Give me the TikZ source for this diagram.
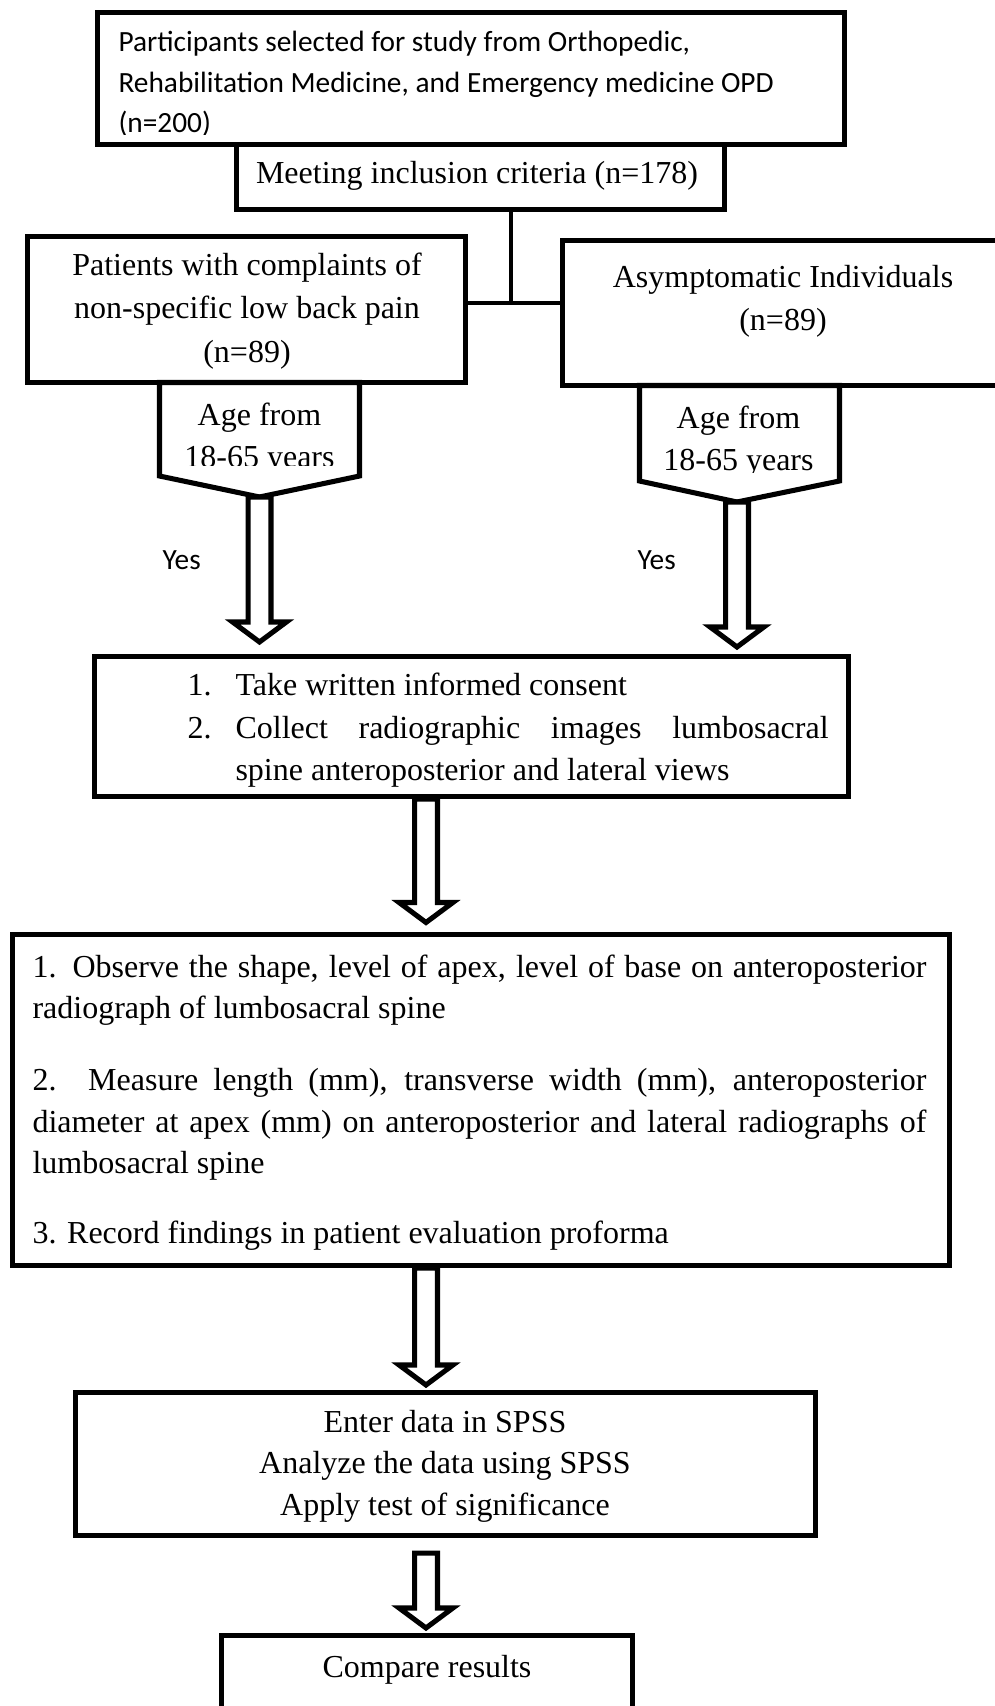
\documentclass[tikz,border=0pt]{standalone}
\usepackage{fontspec}
\setmainfont{Liberation Serif}
\newfontfamily\calib{Carlito}
\usetikzlibrary{calc}
\begin{document}
\begin{tikzpicture}[x=0.375pt,y=-0.375pt,
  box/.style={draw, line width=1.9pt, fill=white, inner sep=0pt, rectangle},
  tnr/.style={font=\fontsize{12}{14}\selectfont, inner sep=0pt},
  cal/.style={font=\calib\fontsize{11}{13}\selectfont, inner sep=0pt},
  conn/.style={line width=1.7pt},
  pent/.style={draw, line width=1.9pt, fill=white, line join=miter},
  blockarr/.style={draw, fill=white, line width=1.9pt, line join=miter,
    to path={let \p1=(\tikztostart), \p2=(\tikztotarget) in
      (\x2-4.3pt,\y1) -- (\x2-4.3pt,\y2+7.5pt) -- (\x2-10.1pt,\y2+7.5pt) -- (\x2,\y2)
      -- (\x2+10.1pt,\y2+7.5pt) -- (\x2+4.3pt,\y2+7.5pt) -- (\x2+4.3pt,\y1) -- cycle}}]
\clip (0,0) rectangle (995,1706);
\fill[white] (0,0) rectangle (995,1706);

% boxes
\node[box, minimum width=280.125pt, minimum height=49.5pt] (top) at (471,78.5) {};
\node[box, minimum width=183pt, minimum height=24.375pt] (meet) at (480.5,177) {};
\node[box, minimum width=164.25pt, minimum height=54.75pt] (left) at (246.5,309.5) {};
\node[box, minimum width=165.5625pt, minimum height=54.375pt] (right) at (783.25,313) {};
\node[box, minimum width=282.75pt, minimum height=52.5pt] (box3) at (471.5,726.5) {};
\node[box, minimum width=351.375pt, minimum height=124.125pt] (box4) at (481,1100) {};
\node[box, minimum width=277.5pt, minimum height=53.625pt] (box5) at (445.5,1464) {};
\node[box, minimum width=154.125pt, minimum height=56.25pt] (box6) at (427,1710.5) {};

% pentagons
\coordinate (pLtip) at (259.5,497);
\coordinate (pRtip) at (737,502);
\draw[pent] (159.5,382.5) -- (359.5,382.5) -- (359.5,476) -- (pLtip) -- (159.5,476) -- cycle;
\draw[pent] (639.5,385.5) -- (839.5,385.5) -- (839.5,481) -- (pRtip) -- (639.5,481) -- cycle;

% connectors
\coordinate (j) at (511,303);
\draw[conn] (meet.south -| j) -- (j);
\draw[conn] (left.east |- j) -- (right.west |- j);

% block arrows
\coordinate (sp) at (426,0);
\path[blockarr] (pLtip) to ($(pLtip |- box3.north)+(0,-12)$);
\path[blockarr] (pRtip) to ($(pRtip |- box3.north)+(0,-7)$);
\path[blockarr] (box3.south -| sp) to ($(box4.north -| sp)+(0,-9.5)$);
\path[blockarr] (box4.south -| sp) to ($(box5.north -| sp)+(0,-5)$);
\path[blockarr] ($(box5.south -| sp)+(0,15)$) to ($(box6.north -| sp)+(0,-5)$);

% texts
\begin{scope}
\clip (100,15) rectangle (843,134);
\node[cal, anchor=base west] (p1) at (118,52) {Participants selected for study from Orthopedic,};
\node[cal, anchor=base west] (p2) at (118,92) {Rehabilitation Medicine, and Emergency medicine OPD};
\node[cal, anchor=base west] (p3) at (118,132.5) {(n=200)};
\end{scope}
\node[tnr, anchor=base] (m1) at (477,183) {Meeting inclusion criteria (n=178)};
\node[tnr, anchor=base] (l1) at (247,275) {Patients with complaints of};
\node[tnr, anchor=base] (l2) at (247,318) {non-specific low back pain};
\node[tnr, anchor=base] (l3) at (247,362) {(n=89)};
\node[tnr, anchor=base] (r1) at (783,287) {Asymptomatic Individuals};
\node[tnr, anchor=base] (r2) at (783,330) {(n=89)};
\begin{scope}
\clip (162,390) rectangle (357,465);
\node[tnr, anchor=base] (al1) at (259.5,425) {Age from};
\node[tnr, anchor=base] (al2) at (259.5,467) {18-65 years};
\end{scope}
\begin{scope}
\clip (642,392) rectangle (837,472);
\node[tnr, anchor=base] (ar1) at (738.5,428) {Age from};
\node[tnr, anchor=base] (ar2) at (738.5,470) {18-65 years};
\end{scope}
\node[cal, anchor=base west] (y1) at (162,569) {Yes};
\node[cal, anchor=base west] (y2) at (637,569) {Yes};

\node[tnr, anchor=base west] (c1) at (187,695) {\makebox[18pt][l]{1.}Take written informed consent};
\node[tnr, anchor=base west] (c2) at (187,738) {\makebox[18pt][l]{2.}\makebox[222.4pt][s]{Collect radiographic images lumbosacral}};
\node[tnr, anchor=base west] (c3) at (235,780) {spine anteroposterior and lateral views};

\node[tnr, anchor=base west] (o1) at (32,977) {\makebox[335.25pt][s]{1. Observe the shape, level of apex, level of base on anteroposterior}};
\node[tnr, anchor=base west] (o2) at (32,1018) {radiograph of lumbosacral spine};
\node[tnr, anchor=base west] (o3) at (32,1090) {\makebox[335.25pt][s]{2. Measure length (mm), transverse width (mm), anteroposterior}};
\node[tnr, anchor=base west] (o4) at (32,1132) {\makebox[335.25pt][s]{diameter at apex (mm) on anteroposterior and lateral radiographs of}};
\node[tnr, anchor=base west] (o5) at (32,1173) {lumbosacral spine};
\node[tnr, anchor=base west] (o6) at (32,1243) {3. Record findings in patient evaluation proforma};

\node[tnr, anchor=base] (s1) at (445,1432) {Enter data in SPSS};
\node[tnr, anchor=base] (s2) at (445,1473) {Analyze the data using SPSS};
\node[tnr, anchor=base] (s3) at (445,1515) {Apply test of significance};
\node[tnr, anchor=base] (cr) at (427,1677) {Compare results};
\end{tikzpicture}
\end{document}
